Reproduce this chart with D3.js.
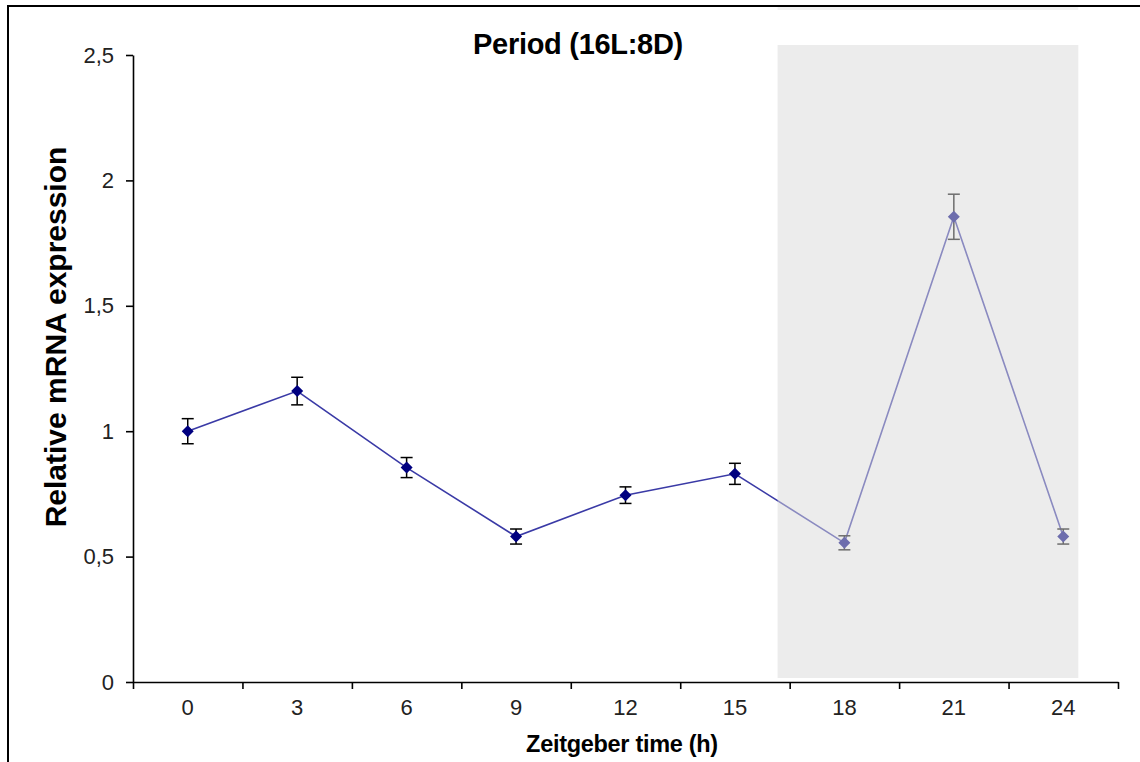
<!DOCTYPE html>
<html>
<head>
<meta charset="utf-8">
<script src="https://cdn.jsdelivr.net/npm/d3@7"></script>
<style>
  html, body { margin: 0; padding: 0; background: #fff; }
  svg { display: block; }
  text { font-family: Arial, "Liberation Sans", sans-serif; }
</style>
</head>
<body>
<svg id="chart" width="1140" height="762"></svg>
<script>
// Zeitgeber time points (h)
const times = ["0", "3", "6", "9", "12", "15", "18", "21", "24"];
// Mean relative mRNA expression of Period
const expression = [1.00, 1.16, 0.855, 0.58, 0.745, 0.83, 0.555, 1.855, 0.58];
// Standard error for each time point
const stdError = [0.05, 0.055, 0.04, 0.03, 0.033, 0.042, 0.028, 0.09, 0.03];
// y-axis tick values
const yTicks = [0, 0.5, 1, 1.5, 2, 2.5];
// Dark phase of the 16L:8D cycle
const darkPhase = { from: "18", to: "24" };

const svg = d3.select("#chart");
const margin = { left: 133, right: 22, top: 55, bottom: 80 };
const W = 1140, H = 762;

const x = d3.scaleBand().domain(times).range([margin.left, W - margin.right]).padding(0);
const y = d3.scaleLinear().domain([0, 2.5]).range([H - margin.bottom, margin.top]);

const locale = d3.formatLocale({ decimal: ",", thousands: ".", grouping: [3], currency: ["", " €"] });
const fmt = locale.format("~r");

const cx = d => x(d) + x.bandwidth() / 2;

// outer frame
svg.append("path")
  .attr("d", `M8,762 L8,6 L1140,6`)
  .attr("fill", "none").attr("stroke", "#000").attr("stroke-width", 2);

// connecting line
const pts = times.map((t, i) => ({ t, v: expression[i], e: stdError[i] }));
svg.append("path")
  .datum(pts)
  .attr("fill", "none")
  .attr("stroke", "#3a3aa6")
  .attr("stroke-width", 1.6)
  .attr("d", d3.line().x(d => cx(d.t)).y(d => y(d.v)));

// error bars
const eb = svg.append("g").attr("stroke", "#000").attr("stroke-width", 1.5);
pts.forEach(d => {
  const xc = cx(d.t);
  eb.append("line").attr("x1", xc).attr("x2", xc).attr("y1", y(d.v + d.e)).attr("y2", y(d.v - d.e));
  eb.append("line").attr("x1", xc - 6).attr("x2", xc + 6).attr("y1", y(d.v + d.e)).attr("y2", y(d.v + d.e));
  eb.append("line").attr("x1", xc - 6).attr("x2", xc + 6).attr("y1", y(d.v - d.e)).attr("y2", y(d.v - d.e));
});

// diamond markers
svg.append("g").selectAll("path")
  .data(pts).join("path")
  .attr("transform", d => `translate(${cx(d.t)},${y(d.v)})`)
  .attr("d", "M0,-6 L6,0 L0,6 L-6,0 Z")
  .attr("fill", "#000080");

// shaded dark phase, laid semi-transparently over the series
const shadeX0 = cx(darkPhase.from) - 0.61 * x.bandwidth();
const shadeX1 = cx(darkPhase.to) + 15;
svg.append("rect")
  .attr("x", shadeX0)
  .attr("y", 45)
  .attr("width", shadeX1 - shadeX0)
  .attr("height", y(0) - 4 - 45)
  .attr("fill", "#d9d9d9")
  .attr("fill-opacity", 0.5);
svg.append("rect")
  .attr("x", shadeX0)
  .attr("y", 7)
  .attr("width", shadeX1 - shadeX0)
  .attr("height", 3)
  .attr("fill", "#f2f2f2");

// y axis
const yAxis = svg.append("g")
  .attr("transform", `translate(${margin.left},0)`)
  .call(d3.axisLeft(y).tickValues(yTicks).tickFormat(fmt).tickSize(7).tickSizeOuter(0).tickPadding(12));
yAxis.select(".domain").attr("stroke", "#000").attr("stroke-width", 1.6);
yAxis.selectAll(".tick line").attr("stroke", "#000").attr("stroke-width", 1.6);
yAxis.selectAll(".tick text").attr("font-size", 22).attr("fill", "#222").attr("font-family", "Arial, 'Liberation Sans', sans-serif");

// x axis: labels centred in bands, tick marks on band edges
const edgeScale = d3.scaleLinear().domain([0, times.length]).range(x.range());
const xEdges = svg.append("g")
  .attr("transform", `translate(0,${y(0)})`)
  .call(d3.axisBottom(edgeScale).tickValues(d3.range(times.length + 1)).tickFormat("").tickSize(7).tickSizeOuter(0));
xEdges.select(".domain").attr("stroke", "#000").attr("stroke-width", 1.6);
xEdges.selectAll(".tick line").attr("stroke", "#000").attr("stroke-width", 1.6);

const xLabels = svg.append("g")
  .attr("transform", `translate(0,${y(0)})`)
  .call(d3.axisBottom(x).tickSize(0).tickPadding(17));
xLabels.select(".domain").remove();
xLabels.selectAll(".tick text").attr("font-size", 22).attr("fill", "#222").attr("font-family", "Arial, 'Liberation Sans', sans-serif");

// titles
svg.append("text")
  .attr("x", 578).attr("y", 54)
  .attr("text-anchor", "middle")
  .attr("font-size", 29).attr("font-weight", "bold")
  .attr("letter-spacing", -0.3)
  .text("Period (16L:8D)");

svg.append("text")
  .attr("x", 622).attr("y", 752)
  .attr("text-anchor", "middle")
  .attr("font-size", 23.5).attr("font-weight", "bold")
  .attr("letter-spacing", -0.3)
  .text("Zeitgeber time (h)");

svg.append("text")
  .attr("transform", "translate(66,337) rotate(-90)")
  .attr("text-anchor", "middle")
  .attr("font-size", 30).attr("font-weight", "bold")
  .text("Relative mRNA expression");
</script>
</body>
</html>
